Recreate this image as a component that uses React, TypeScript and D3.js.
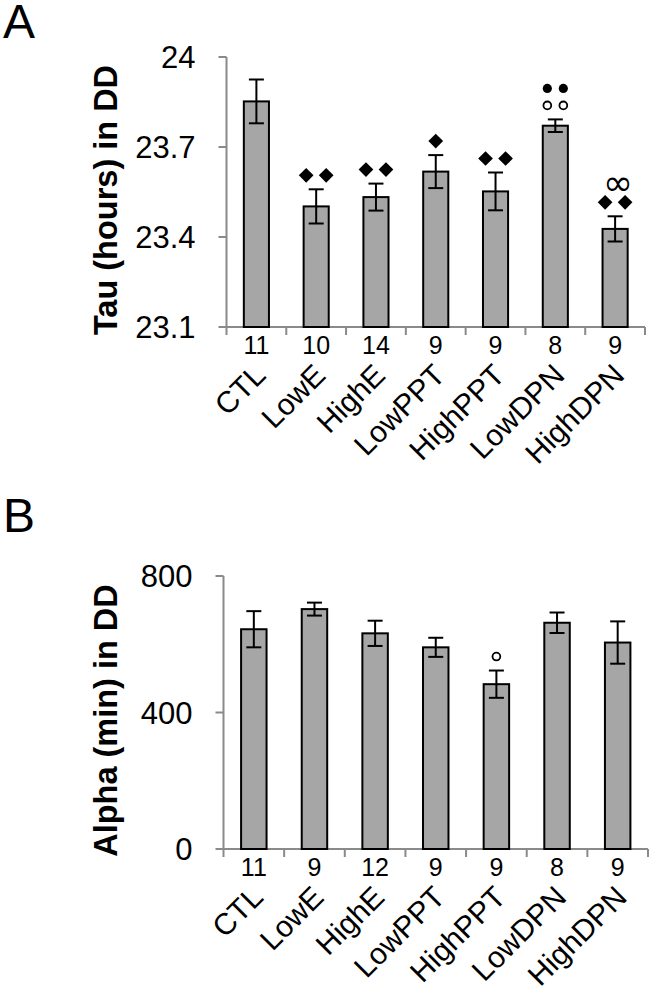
import React from "react";
import * as d3 from "d3";

const categories = ["CTL", "LowE", "HighE", "LowPPT", "HighPPT", "LowDPN", "HighDPN"];

const tauMean = [23.852, 23.502, 23.533, 23.618, 23.552, 23.771, 23.427];
const tauSE = [0.073, 0.057, 0.045, 0.055, 0.063, 0.021, 0.042];
const tauN = [11, 10, 14, 9, 9, 8, 9];
const tauTicks = [23.1, 23.4, 23.7, 24];
const tauMarksRow1 = ["", "DD", "DD", "D", "DD", "oo", "DD"];
const tauMarksRow2 = ["", "", "", "", "", "ff", "inf"];

const alphaMean = [644, 703, 632, 591, 483, 663, 605];
const alphaSE = [53, 19, 37, 28, 40, 30, 62];
const alphaN = [11, 9, 12, 9, 9, 8, 9];
const alphaTicks = [0, 400, 800];
const alphaMarksRow1 = ["", "", "", "", "o", "", ""];
const alphaMarksRow2 = ["", "", "", "", "", "", ""];

const FONT = "'Liberation Sans', Arial, Helvetica, sans-serif";
const AXIS = "#8a8a8a";
const BAR = "#a6a6a6";

type PanelProps = {
  letter: string;
  letterY: number;
  title: string;
  mean: number[];
  se: number[];
  n: number[];
  ticks: number[];
  domain: [number, number];
  yTop: number;
  yBottom: number;
  xLeft: number;
  xRight: number;
  row1: string[];
  row2: string[];
  tickFormat: (v: number) => string;
};

function Marks({ code, cx, cy }: { code: string; cx: number; cy: number }) {
  if (!code) return null;
  if (code === "inf") {
    return (
      <text x={cx + 3} y={cy + 10} textAnchor="middle" fontFamily="'DejaVu Sans', sans-serif" fontSize={36} fill="#000">
        ∞
      </text>
    );
  }
  const items = code.split("");
  const spacing = items[0] === "D" ? 20 : 16;
  const start = cx - ((items.length - 1) * spacing) / 2;
  return (
    <g>
      {items.map((c, i) => {
        const x = start + i * spacing;
        if (c === "D") {
          const p = d3.symbol().type(d3.symbolSquare).size(108)();
          return <path key={i} d={p || ""} transform={`translate(${x},${cy}) rotate(45)`} fill="#000" />;
        }
        if (c === "f") {
          return <circle key={i} cx={x} cy={cy} r={4.6} fill="#000" />;
        }
        return <circle key={i} cx={x} cy={cy} r={3.9} fill="none" stroke="#000" strokeWidth={1.8} />;
      })}
    </g>
  );
}

function Panel(p: PanelProps) {
  const y = d3.scaleLinear().domain(p.domain).range([p.yBottom, p.yTop]);
  const x = d3.scaleBand<string>().domain(categories).range([p.xLeft, p.xRight]).padding(0);
  const bw = x.bandwidth() * 0.42;
  const cap = 7.5;
  const boundaries = d3.range(categories.length + 1).map((i) => p.xLeft + i * x.bandwidth());
  return (
    <g>
      <text x={3} y={p.letterY} fontFamily={FONT} fontSize={48} fill="#000">
        {p.letter}
      </text>
      <text
        transform={`translate(117,${(p.yTop + p.yBottom) / 2 + 8}) rotate(-90)`}
        textAnchor="middle"
        fontFamily={FONT}
        fontWeight="bold"
        fontSize={32.5}
        fill="#000"
      >
        {p.title}
      </text>
      {/* y axis */}
      <line x1={p.xLeft} x2={p.xLeft} y1={p.yTop} y2={p.yBottom} stroke={AXIS} strokeWidth={2} />
      {p.ticks.map((t) => (
        <g key={t}>
          <line x1={p.xLeft - 8} x2={p.xLeft} y1={y(t)} y2={y(t)} stroke={AXIS} strokeWidth={2} />
          <text x={p.xLeft - 31} y={y(t) + 11} textAnchor="end" fontFamily={FONT} fontSize={31} fill="#000">
            {p.tickFormat(t)}
          </text>
        </g>
      ))}
      {/* x axis */}
      <line x1={p.xLeft} x2={p.xRight} y1={p.yBottom} y2={p.yBottom} stroke={AXIS} strokeWidth={2} />
      {boundaries.map((bx, i) => (
        <line key={i} x1={bx} x2={bx} y1={p.yBottom} y2={p.yBottom + 8} stroke={AXIS} strokeWidth={2} />
      ))}
      {categories.map((c, i) => {
        const cx = (x(c) as number) + x.bandwidth() / 2;
        const top = y(p.mean[i]);
        const eTop = y(p.mean[i] + p.se[i]);
        const eBot = y(p.mean[i] - p.se[i]);
        return (
          <g key={c}>
            <rect x={cx - bw / 2} y={top} width={bw} height={p.yBottom - top} fill={BAR} stroke="#000" strokeWidth={2} />
            <line x1={cx} x2={cx} y1={eTop} y2={eBot} stroke="#000" strokeWidth={2} />
            <line x1={cx - cap} x2={cx + cap} y1={eTop} y2={eTop} stroke="#000" strokeWidth={2} />
            <line x1={cx - cap} x2={cx + cap} y1={eBot} y2={eBot} stroke="#000" strokeWidth={2} />
            <Marks code={p.row1[i]} cx={cx} cy={eTop - 14} />
            <Marks code={p.row2[i]} cx={cx} cy={eTop - 31} />
            <text x={cx} y={p.yBottom + 27} textAnchor="middle" fontFamily={FONT} fontSize={25} fill="#000">
              {p.n[i]}
            </text>
            <text
              transform={`translate(${cx + 11},${p.yBottom + 50}) rotate(-45)`}
              textAnchor="end"
              fontFamily={FONT}
              fontSize={30}
              fill="#000"
            >
              {c}
            </text>
          </g>
        );
      })}
    </g>
  );
}

export default function App() {
  return (
    <svg
      width={650}
      height={1002}
      viewBox="0 0 650 1002"
      style={{ position: "absolute", left: 0, top: 0, background: "#fff" }}
    >
      <rect x={0} y={0} width={650} height={1002} fill="#fff" />
      <Panel
        letter="A"
        letterY={38}
        title="Tau (hours) in DD"
        mean={tauMean}
        se={tauSE}
        n={tauN}
        ticks={tauTicks}
        domain={[23.1, 24]}
        yTop={57}
        yBottom={327}
        xLeft={226.5}
        xRight={645}
        row1={tauMarksRow1}
        row2={tauMarksRow2}
        tickFormat={(v) => (v === 24 ? "24" : d3.format(".1f")(v))}
      />
      <Panel
        letter="B"
        letterY={532}
        title="Alpha (min) in DD"
        mean={alphaMean}
        se={alphaSE}
        n={alphaN}
        ticks={alphaTicks}
        domain={[0, 800]}
        yTop={576}
        yBottom={849}
        xLeft={223.5}
        xRight={648}
        row1={alphaMarksRow1}
        row2={alphaMarksRow2}
        tickFormat={(v) => String(v)}
      />
    </svg>
  );
}
